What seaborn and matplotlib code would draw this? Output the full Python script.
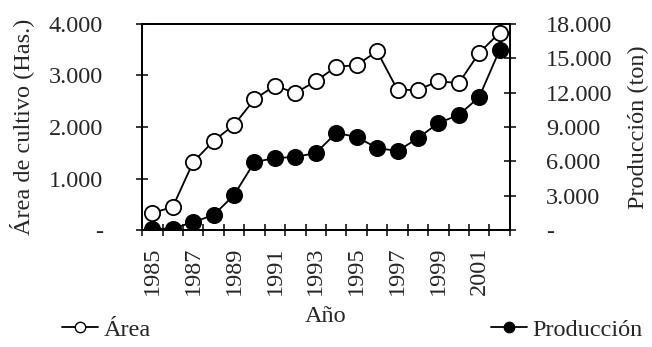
import matplotlib
matplotlib.use("Agg")
import matplotlib.pyplot as plt
import matplotlib.ticker as mticker
from matplotlib.lines import Line2D
import seaborn as sns
import pandas as pd

years = list(range(1985, 2003))
area = [330, 450, 1320, 1730, 2040, 2540, 2800, 2660, 2890, 3170,
        3200, 3470, 2720, 2720, 2890, 2850, 3440, 3830]
produccion = [100, 120, 700, 1310, 3060, 5940, 6290, 6380, 6730, 8480,
              8130, 7170, 6900, 8030, 9350, 10050, 11620, 15730]
year_labels = [str(y) for y in years[::2]]

sns.set_theme(style="white")
plt.rcParams["font.family"] = ["Liberation Serif", "DejaVu Serif"]
FS = 17.5
plt.rcParams["font.size"] = FS

df = pd.DataFrame({"idx": range(len(years)), "area": area, "prod": produccion})

fig = plt.figure(figsize=(6.52, 3.47), dpi=100)
ax = fig.add_axes([0.218, 0.337, 0.564, 0.594])
ax2 = ax.twinx()

sns.lineplot(data=df, x="idx", y="area", ax=ax, color="black", lw=1.3,
             marker="o", markersize=11, markerfacecolor="white",
             markeredgecolor="black", markeredgewidth=1.3)
sns.lineplot(data=df, x="idx", y="prod", ax=ax2, color="black", lw=1.3,
             marker="o", markersize=11, markerfacecolor="black",
             markeredgecolor="black", markeredgewidth=1.3)

def miles(v, pos):
    if abs(v) < 1e-9:
        return "-"
    return f"{int(round(v)):,}".replace(",", ".")

ax.set_xlim(-0.5, len(years) - 0.5)
ax.set_ylim(0, 4000)
ax2.set_ylim(0, 18000)
ax.yaxis.set_major_locator(mticker.MultipleLocator(1000))
ax2.yaxis.set_major_locator(mticker.MultipleLocator(3000))
ax.yaxis.set_major_formatter(mticker.FuncFormatter(miles))
ax2.yaxis.set_major_formatter(mticker.FuncFormatter(miles))

ax.set_xticks(list(range(0, len(years), 2)))
ax.set_xticklabels(year_labels, rotation=90, va="top")
ax.set_xticks([i - 0.5 for i in range(len(years) + 1)], minor=True)
ax.tick_params(axis="x", which="major", length=0, pad=12, labelsize=FS)
ax.tick_params(axis="x", which="minor", direction="inout", length=8, width=1.3,
               bottom=True)
ax.tick_params(axis="y", direction="inout", length=8, width=1.3, left=True,
               labelsize=FS, pad=24)
ax2.tick_params(axis="y", direction="inout", length=8, width=1.3, right=True,
                labelsize=FS, pad=22)
for lbl in ax2.get_yticklabels():
    lbl.set_horizontalalignment("left")

for a in (ax, ax2):
    for s in a.spines.values():
        s.set_color("black")
        s.set_linewidth(1.3)

ax.set_xlabel("Año", fontsize=FS, labelpad=8)
ax.set_ylabel("Área de cultivo (Has.)", fontsize=FS, labelpad=11)
ax2.set_ylabel("Producción (ton)", fontsize=FS, labelpad=11)

h_area = Line2D([], [], color="black", lw=1.3, marker="o", markersize=7.5,
                markerfacecolor="white", markeredgecolor="black")
h_prod = Line2D([], [], color="black", lw=1.3, marker="o", markersize=7.5,
                markerfacecolor="black", markeredgecolor="black")
leg_kw = dict(frameon=False, fontsize=FS, handlelength=1.5, handletextpad=0.2,
              borderaxespad=0, borderpad=0)
fig.legend([h_area], ["Área"], loc="center left",
           bbox_to_anchor=(0.095, 0.05), **leg_kw)
fig.legend([h_prod], ["Producción"], loc="center right",
           bbox_to_anchor=(0.985, 0.05), **leg_kw)

fig.savefig("out.png", dpi=100)
